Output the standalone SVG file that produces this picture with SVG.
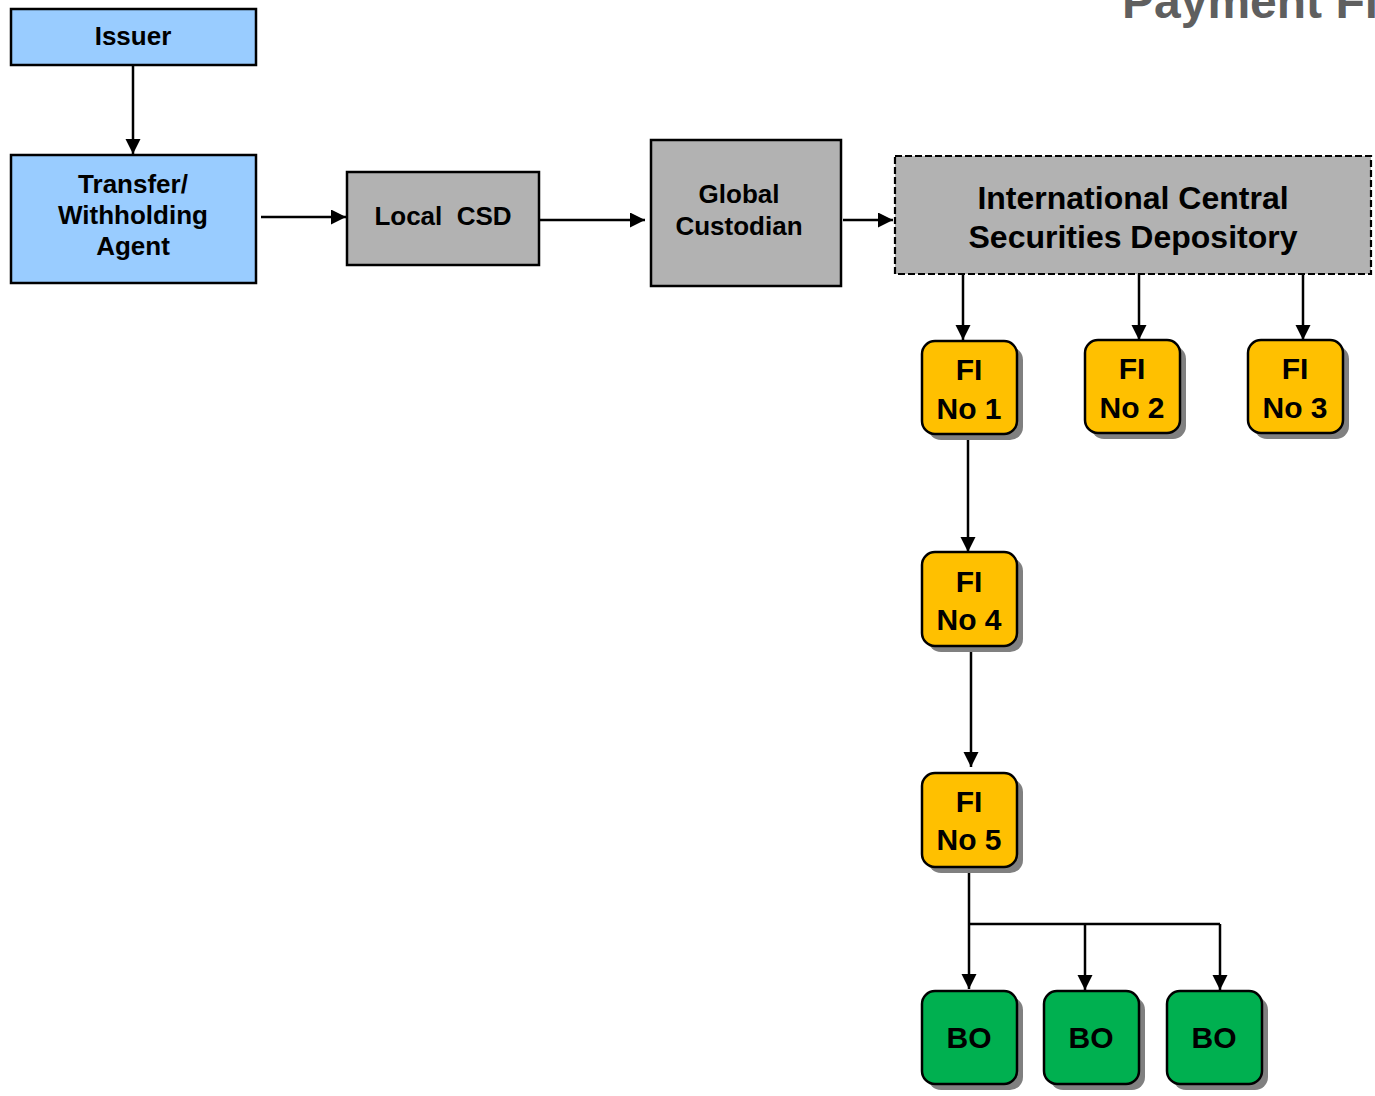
<svg xmlns="http://www.w3.org/2000/svg" width="1375" height="1096" viewBox="0 0 1375 1096">
<defs>
<marker id="arr" markerUnits="userSpaceOnUse" markerWidth="16" markerHeight="16" refX="15" refY="7.5" orient="auto">
<path d="M0,0 L15,7.5 L0,15 z" fill="#000"/>
</marker>
</defs>
<style>
text{font-family:"Liberation Sans",Arial,sans-serif;font-weight:bold;text-anchor:middle;fill:#000}
.t26{font-size:26px}
.t30{font-size:30px}
.t32{font-size:32px}
.blue{fill:#99CCFF;stroke:#000;stroke-width:2.5}
.gray{fill:#B2B2B2;stroke:#000;stroke-width:2.5}
.dash{fill:#B2B2B2;stroke:#000;stroke-width:2.2;stroke-dasharray:7 3}
.fi{fill:#FFC000;stroke:#000;stroke-width:2.5}
.bo{fill:#00B050;stroke:#000;stroke-width:2.5}
.sh{fill:#808080}
.c{fill:none;stroke:#000;stroke-width:2.5}
.ca{fill:none;stroke:#000;stroke-width:2.5;marker-end:url(#arr)}
</style>
<rect width="1375" height="1096" fill="#fff"/>
<text id="title" x="1122" y="18" style="font-size:48px;text-anchor:start;fill:#5F5F5F">Payment Fl</text>

<g id="connectors">
<path class="ca" d="M133,65 V154"/>
<path class="ca" d="M261,217 H346"/>
<path class="ca" d="M539,220 H645"/>
<path class="ca" d="M843,220 H893"/>
<path class="ca" d="M963,274 V340"/>
<path class="ca" d="M1139,274 V340"/>
<path class="ca" d="M1303,274 V340"/>
<path class="ca" d="M968,434 V552"/>
<path class="ca" d="M971,646 V767"/>
<path class="ca" d="M969,868 V989"/>
<path class="c" d="M969,924 H1220"/>
<path class="ca" d="M1085,924 V990"/>
<path class="ca" d="M1220,924 V990"/>
</g>

<g id="issuer">
<rect class="blue" x="11" y="9" width="245" height="56"/>
<text class="t26" x="133" y="45">Issuer</text>
</g>
<g id="transfer-agent">
<rect class="blue" x="11" y="155" width="245" height="128"/>
<text class="t26" x="133" y="193">Transfer/</text>
<text class="t26" x="133" y="224">Withholding</text>
<text class="t26" x="133" y="255">Agent</text>
</g>
<g id="local-csd">
<rect class="gray" x="347" y="172" width="192" height="93"/>
<text class="t26" x="443" y="225" xml:space="preserve">Local  CSD</text>
</g>
<g id="global-custodian">
<rect class="gray" x="651" y="140" width="190" height="146"/>
<text class="t26" x="739" y="203">Global</text>
<text class="t26" x="739" y="235">Custodian</text>
</g>
<g id="icsd">
<rect class="dash" x="895" y="156" width="476" height="118"/>
<text class="t32" x="1133" y="209">International Central</text>
<text class="t32" x="1133" y="248">Securities Depository</text>
</g>

<g id="fi1">
<rect class="sh" x="928" y="347" width="95" height="93" rx="13"/>
<rect class="fi" x="922" y="341" width="95" height="93" rx="13"/>
<text class="t30" x="969" y="380">FI</text>
<text class="t30" x="969" y="419">No 1</text>
</g>
<g id="fi2">
<rect class="sh" x="1091" y="346" width="95" height="93" rx="13"/>
<rect class="fi" x="1085" y="340" width="95" height="93" rx="13"/>
<text class="t30" x="1132" y="379">FI</text>
<text class="t30" x="1132" y="418">No 2</text>
</g>
<g id="fi3">
<rect class="sh" x="1254" y="346" width="95" height="93" rx="13"/>
<rect class="fi" x="1248" y="340" width="95" height="93" rx="13"/>
<text class="t30" x="1295" y="379">FI</text>
<text class="t30" x="1295" y="418">No 3</text>
</g>
<g id="fi4">
<rect class="sh" x="928" y="558" width="95" height="94" rx="13"/>
<rect class="fi" x="922" y="552" width="95" height="94" rx="13"/>
<text class="t30" x="969" y="592">FI</text>
<text class="t30" x="969" y="630">No 4</text>
</g>
<g id="fi5">
<rect class="sh" x="928" y="779" width="95" height="94" rx="13"/>
<rect class="fi" x="922" y="773" width="95" height="94" rx="13"/>
<text class="t30" x="969" y="812">FI</text>
<text class="t30" x="969" y="850">No 5</text>
</g>

<g id="bo1">
<rect class="sh" x="928" y="997" width="95" height="93" rx="13"/>
<rect class="bo" x="922" y="991" width="95" height="93" rx="13"/>
<text class="t30" x="969" y="1048">BO</text>
</g>
<g id="bo2">
<rect class="sh" x="1050" y="997" width="95" height="93" rx="13"/>
<rect class="bo" x="1044" y="991" width="95" height="93" rx="13"/>
<text class="t30" x="1091" y="1048">BO</text>
</g>
<g id="bo3">
<rect class="sh" x="1173" y="997" width="95" height="93" rx="13"/>
<rect class="bo" x="1167" y="991" width="95" height="93" rx="13"/>
<text class="t30" x="1214" y="1048">BO</text>
</g>
</svg>
